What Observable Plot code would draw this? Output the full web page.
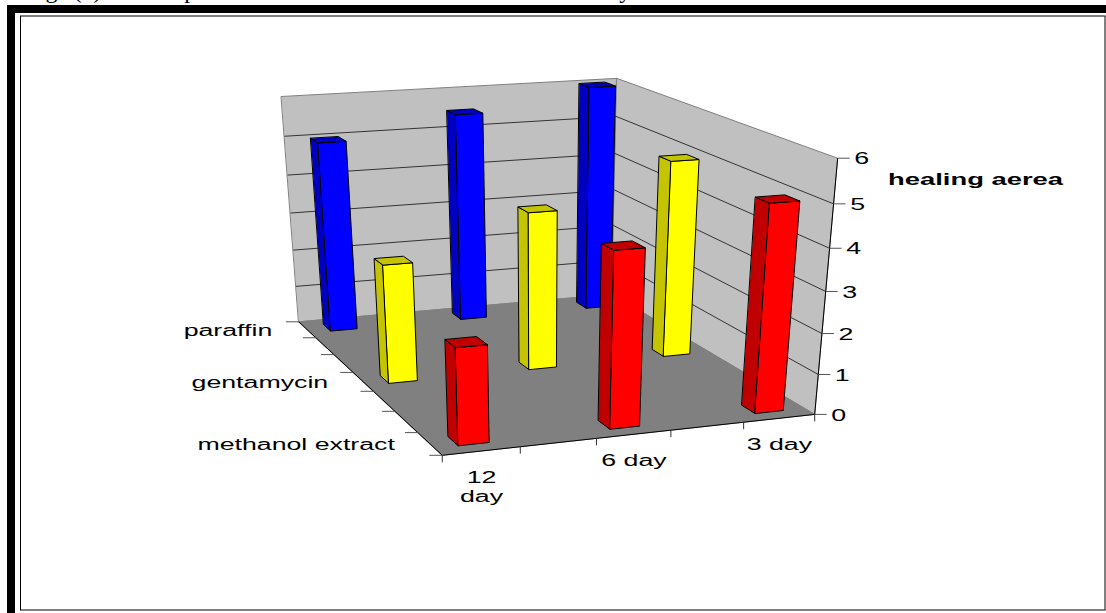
<!DOCTYPE html>
<html>
<head>
<meta charset="utf-8">
<style>html,body{margin:0;padding:0;background:#fff;overflow:hidden}svg{display:block}</style>
<script src="https://cdn.jsdelivr.net/npm/d3@7"></script>
<script src="https://cdn.jsdelivr.net/npm/@observablehq/plot@0.6"></script>
</head>
<body>
<script>
// Category slots along the floor; unnamed slots stay empty.
const daySlots = ["12 day", "", "6 day", "", "3 day"];
const treatmentSlots = ["paraffin", "", "", "gentamycin", "", "", "methanol extract"];
const zTicks = [0, 1, 2, 3, 4, 5, 6];

// Healing area per treatment, one value per named day (12, 6, 3).
const paraffin = [5, 5.5, 6];
const gentamycin = [3, 4, 5];
const methanol = [2.33, 4.22, 5];

const seriesNames = ["paraffin", "gentamycin", "methanol extract"];
const seriesValues = [paraffin, gentamycin, methanol];
const dayNames = ["12 day", "6 day", "3 day"];

// Face colours for each series: front, side and top.
const shades = {
  "paraffin": ["#0000ff", "#0000c0", "#0000c0"],
  "gentamycin": ["#ffff00", "#c4c400", "#c4c400"],
  "methanol extract": ["#ff0000", "#c00000", "#c00000"]
};

// Camera calibration: box reference points -> screen, solved as a projective matrix.
const calibration = [
  [0,7,0,442,453],[5,7,0,814,413],[0,0,0,298,321],[5,0,0,612,294],
  [0,0,6,281,96],[5,0,6,616,78],[5,7,6,838,157],
  [5,7,1,818,373],[5,7,2,821.6,333],[5,7,3,825,291],[5,7,4,829,248],[5,7,5,832.5,204],
  [1,7,0,520,447],[2,7,0,596,440],[3,7,0,670,430],[4,7,0,743,422]
];

function solveCamera(pts) {
  const A = [], b = [];
  for (const [X, Y, Z, u0, v0] of pts) {
    const u = u0 / 1000, v = v0 / 1000;
    A.push([X, Y, Z, 1, 0, 0, 0, 0, -u * X, -u * Y, -u * Z]); b.push(u);
    A.push([0, 0, 0, 0, X, Y, Z, 1, -v * X, -v * Y, -v * Z]); b.push(v);
  }
  const n = 11;
  const M = d3.range(n).map(i => d3.range(n + 1).map(j =>
    j < n ? d3.sum(A, r => r[i] * r[j]) : d3.sum(A, (r, k) => r[i] * b[k])));
  for (let c = 0; c < n; c++) {
    let p = c;
    for (let r = c + 1; r < n; r++) if (Math.abs(M[r][c]) > Math.abs(M[p][c])) p = r;
    [M[c], M[p]] = [M[p], M[c]];
    for (let r = 0; r < n; r++) {
      if (r === c) continue;
      const f = M[r][c] / M[c][c];
      for (let k = c; k <= n; k++) M[r][k] -= f * M[c][k];
    }
  }
  return M.map((row, i) => row[n] / row[i]);
}
const cam = solveCamera(calibration);
function project(X, Y, Z) {
  const w = cam[8] * X + cam[9] * Y + cam[10] * Z + 1;
  return [1000 * (cam[0] * X + cam[1] * Y + cam[2] * Z + cam[3]) / w,
          1000 * (cam[4] * X + cam[5] * Y + cam[6] * Z + cam[7]) / w];
}

const nDays = daySlots.length, nSlots = treatmentSlots.length, zMax = d3.max(zTicks);

// Walls and floor
const polys = [];
function face(id, fill, corners) {
  for (const c of corners) {
    const [x, y] = project(...c);
    polys.push({id, fill, x, y});
  }
}
face("back", "#c0c0c0", [[0,0,0],[nDays,0,0],[nDays,0,zMax],[0,0,zMax]]);
face("side", "#c0c0c0", [[nDays,0,0],[nDays,nSlots,0],[nDays,nSlots,zMax],[nDays,0,zMax]]);
face("floor", "#808080", [[0,0,0],[nDays,0,0],[nDays,nSlots,0],[0,nSlots,0]]);

// Columns, painted from the back row forward and right to left within a row.
const barPolys = [];
const barFace = (id, fill, corners) => {
  for (const c of corners) {
    const [x, y] = project(...c);
    barPolys.push({id, fill, x, y});
  }
};
seriesNames.forEach((name, s) => {
  const j = treatmentSlots.indexOf(name);
  [...dayNames].reverse().forEach(day => {
    const i = daySlots.indexOf(day);
    const z = seriesValues[s][dayNames.indexOf(day)];
    const [u0, u1, d0, d1] = [i + 0.3, i + 0.7, j + 0.3, j + 0.7];
    const [front, side, top] = shades[name];
    const key = name + day;
    barFace(key + "s", side, [[u0,d0,0],[u0,d1,0],[u0,d1,z],[u0,d0,z]]);
    barFace(key + "f", front, [[u0,d1,0],[u1,d1,0],[u1,d1,z],[u0,d1,z]]);
    barFace(key + "t", top, [[u0,d0,z],[u0,d1,z],[u1,d1,z],[u1,d0,z]]);
  });
});

// Wall gridlines at each value
const grid = zTicks.slice(1, -1).flatMap(z => {
  const [ax, ay] = project(0, 0, z), [bx, by] = project(nDays, 0, z), [cx, cy] = project(nDays, nSlots, z);
  return [{x1: ax, y1: ay, x2: bx, y2: by}, {x1: bx, y1: by, x2: cx, y2: cy}];
});

// Axis lines, tick marks and tick labels
const edges = [[[0,0,0],[0,nSlots,0]], [[0,nSlots,0],[nDays,nSlots,0]], [[nDays,nSlots,0],[nDays,nSlots,zMax]]]
  .map(([a, b]) => { const [x1, y1] = project(...a), [x2, y2] = project(...b); return {x1, y1, x2, y2}; });
const zTickRows = zTicks.map(z => { const [x, y] = project(nDays, nSlots, z); return {z, x, y}; });
const dayTickRows = d3.range(nDays + 1).map(i => { const [x, y] = project(i, nSlots, 0); return {x, y}; });
const slotTickRows = d3.range(nSlots + 1).map(j => { const [x, y] = project(0, j, 0); return {x, y}; });
const dayLabels = [{lines: ["12", "day"], slot: 0}, {lines: ["6 day"], slot: 2}, {lines: ["3 day"], slot: 4}]
  .flatMap(({lines, slot}) => lines.map((text, k) => {
    const [x, y] = project(slot + 0.5, nSlots, 0);
    return {text, x, y: y + k * 19};
  }));
const treatmentLabels = seriesNames.map(text => {
  const [x, y] = project(0, treatmentSlots.indexOf(text) + 0.5, 0);
  return {text, x, y};
});

// Heading line cut by the top of the page
const headingWords = [{t: "Fig", x: 25}, {t: "(5)", x: 73}, {t: "Comparison", x: 137}, {t: "day", x: 596}];

const sans = "Liberation Sans, Arial, sans-serif";
const chart = Plot.plot({
  width: 1106, height: 613, margin: 0,
  x: {type: "identity", axis: null}, y: {type: "identity", axis: null}, color: {type: "identity"},
  style: {background: "white"},
  marks: [
    Plot.text(headingWords, {x: "x", y: () => 0, text: "t", textAnchor: "start", lineAnchor: "bottom", dy: -3,
      fontFamily: "Liberation Serif", fontSize: 24, fill: "black"}),
    Plot.rect([{}], {x1: () => 7, x2: () => 1106, y1: () => 5, y2: () => 13, fill: "black"}),
    Plot.rect([{}], {x1: () => 7, x2: () => 15, y1: () => 5, y2: () => 613, fill: "black"}),
    Plot.rect([{}], {x1: () => 20.5, x2: () => 1105, y1: () => 16, y2: () => 610, fill: "none", stroke: "black", strokeWidth: 1}),
    Plot.line(polys, {x: "x", y: "y", z: "id", fill: "fill", stroke: "#808080", strokeWidth: 1, curve: "linear-closed"}),
    Plot.link(grid, {x1: "x1", y1: "y1", x2: "x2", y2: "y2", stroke: "#333", strokeWidth: 1}),
    Plot.link(edges, {x1: "x1", y1: "y1", x2: "x2", y2: "y2", stroke: "black", strokeWidth: 1}),
    Plot.link(zTickRows, {x1: "x", y1: "y", x2: d => d.x + 12, y2: "y", stroke: "#555", strokeWidth: 1}),
    Plot.link(slotTickRows, {x1: "x", y1: "y", x2: d => d.x - 13, y2: "y", stroke: "#555", strokeWidth: 1}),
    Plot.link(dayTickRows, {x1: "x", y1: "y", x2: "x", y2: d => d.y + 7, stroke: "#333", strokeWidth: 1}),
    Plot.line(barPolys, {x: "x", y: "y", z: "id", fill: "fill", stroke: "black", strokeWidth: 1, curve: "linear-closed"}),
    Plot.text(zTickRows, {x: "x", y: "y", text: d => String(d.z), dx: 24, dy: 1, fontFamily: sans, fontSize: 16, fill: "black"}),
    Plot.text(treatmentLabels, {x: "x", y: "y", text: "text", dx: -35, dy: 1, textAnchor: "end", fontFamily: sans, fontSize: 16, fill: "black"}),
    Plot.text(dayLabels, {x: "x", y: "y", text: "text", dy: 27, fontFamily: sans, fontSize: 16, fill: "black"}),
    Plot.text(["healing aerea"], {x: () => 975, y: () => 179, text: d => d, fontFamily: sans, fontWeight: "bold", fontSize: 16, fill: "black"})
  ]
});
document.body.appendChild(chart);

// Widen the sans-serif labels to the chart's broad lettering.
chart.querySelectorAll('g[font-family^="Liberation Sans"] text').forEach(t => {
  const bold = t.closest("g").getAttribute("font-weight") === "bold";
  t.setAttribute("textLength", (t.getComputedTextLength() * (bold ? 1.71 : 1.67)).toFixed(1));
  t.setAttribute("lengthAdjust", "spacingAndGlyphs");
});
</script>
</body>
</html>
